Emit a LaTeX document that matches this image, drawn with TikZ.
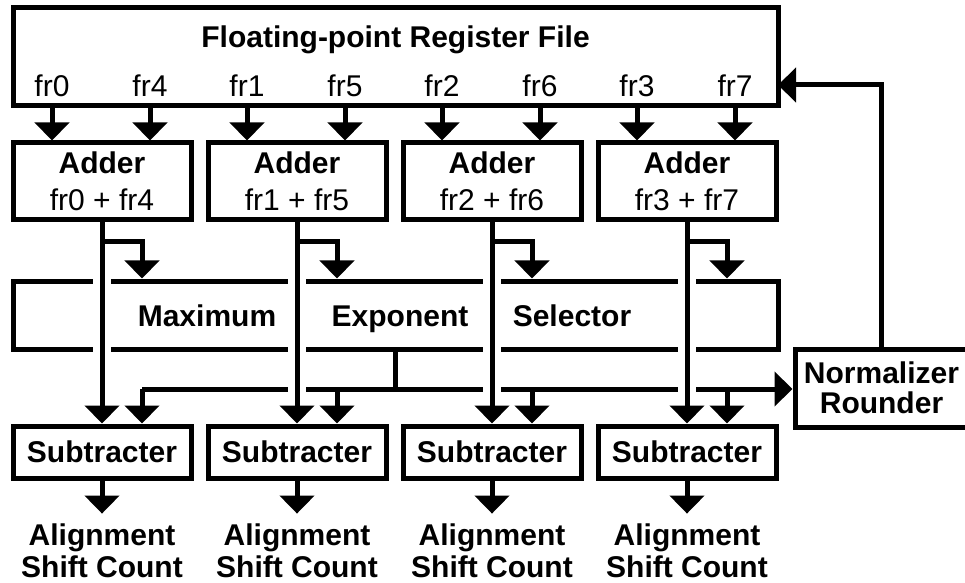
\documentclass[tikz,border=0pt]{standalone}
\usepackage{fontspec}
\setmainfont{Liberation Sans}
\usetikzlibrary{arrows.meta}

\tikzset{
  block/.style={draw, line width=2.5pt, inner sep=0pt, font=\bfseries},
  wire/.style={line width=2.5pt},
  arr/.style={wire, -{Triangle[width=17pt,length=9pt]}},
  crossgap/.style={white, line width=9pt},
}

\begin{document}
\fontsize{15}{16}\selectfont
\begin{tikzpicture}
      [x=0.5pt, y=-0.5pt]
      \useasboundingbox (0,0) rectangle (965,583);
      \clip (0,0) rectangle (965,583);

      % register file
      \node[block, minimum width=382.5pt, minimum height=49pt] (reg) at (395.5,57) {};
      \node[font=\bfseries] (title) at (395.5,40) {Floating-point Register File};

      % one lane per adder
      \foreach \i/\a/\b in {0/0/4,1/1/5,2/2/6,3/3/7} {
        \node (r\a) at ({52+195*\i},86) {fr\a};
        \node (r\b) at ({150+195*\i},86) {fr\b};
        \node[block, minimum width=89pt, minimum height=38.5pt, align=center]
          (add\i) at ({102+195*\i},181.5) {Adder\\[2.5pt]\mdseries fr\a{} + fr\b};
        \node[block, minimum width=89pt, minimum height=26pt]
          (sub\i) at ({102+195*\i},452) {Subtracter};
        \node[font=\bfseries, align=center] (out\i) at ({102+195*\i},551) {Alignment\\Shift Count};
        \coordinate (br\i) at ({102+195*\i},242);
        \coordinate (bus\i) at ({142+195*\i},389);
      }

      % selector and normalizer
      \node[block, minimum width=382.5pt, minimum height=34pt] (mes) at (395.5,315) {};
      \node[font=\bfseries, anchor=base] (mx) at (207,327) {Maximum};
      \node[font=\bfseries, anchor=base] (ex) at (400,327) {Exponent};
      \node[font=\bfseries, anchor=base] (sl) at (572,327) {Selector};
      \node[block, minimum width=86.5pt, minimum height=39pt, align=center]
        (norm) at (881.5,388) {Normalizer\\[-1pt]Rounder};

      % maximum exponent bus
      \coordinate (tap) at (395.5,389);
      \draw[wire] (mes.south) -- (tap);
      \draw[arr] (bus0) -- (norm.west |- bus0);
      % feedback to register file
      \coordinate (fb) at (778,85);
      \draw[arr] (norm.north) |- (fb);

      \foreach \i/\a/\b in {0/0/4,1/1/5,2/2/6,3/3/7} {
        \draw[arr] (r\a |- reg.south) -- (r\a |- add\i.north);
        \draw[arr] (r\b |- reg.south) -- (r\b |- add\i.north);
        % lines cross without joining
        \draw[crossgap] ({102+195*\i},270) -- ({102+195*\i},398);
        \draw[arr] (add\i.south) -- (sub\i.north);
        \draw[arr] (br\i) -| (bus\i |- mes.north);
        \draw[arr] (bus\i) -- (bus\i |- sub\i.north);
        \draw[arr] (sub\i) -- (out\i);
      }
\end{tikzpicture}
\end{document}
